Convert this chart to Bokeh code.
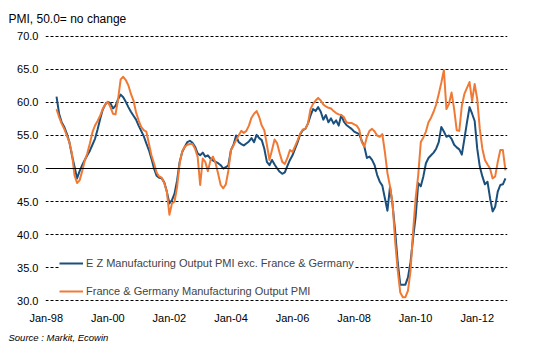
from bokeh.plotting import figure
from bokeh.models import (Range1d, FixedTicker, Span, Legend, LegendItem, Title,
                          NumeralTickFormatter)
from bokeh.embed import file_html
from bokeh.resources import INLINE

# ---- data: monthly PMI readings, Jan-98 .. Aug-12 ----
ez_1998 = [60.9, 58.3, 57.0, 56.3, 55.3, 54.0, 52.0, 50.3, 48.5, 49.6, 50.5, 51.3]
ez_1999 = [52.0, 52.7, 53.6, 54.5, 55.9, 57.5, 58.9, 59.7, 60.1, 59.9, 59.1, 59.5]
ez_2000 = [60.5, 61.2, 60.8, 60.1, 59.3, 58.6, 58.0, 57.4, 56.5, 55.7, 54.9, 53.8]
ez_2001 = [52.8, 51.5, 50.0, 48.9, 48.6, 48.5, 47.9, 46.5, 44.7, 45.2, 46.2, 48.2]
ez_2002 = [51.0, 52.5, 53.3, 54.0, 54.2, 53.9, 53.3, 52.3, 52.0, 52.4, 51.8, 52.0]
ez_2003 = [51.5, 51.2, 51.0, 50.8, 50.5, 50.0, 50.2, 50.5, 52.8, 53.6, 55.0, 54.0]
ez_2004 = [53.7, 53.5, 53.8, 54.1, 54.6, 54.0, 55.1, 54.6, 54.3, 53.0, 51.0, 50.5]
ez_2005 = [51.3, 50.6, 50.0, 49.5, 49.2, 49.4, 50.4, 51.3, 52.0, 53.0, 54.0, 55.2]
ez_2006 = [55.8, 56.0, 56.8, 58.0, 59.0, 58.7, 59.3, 58.6, 57.4, 58.1, 57.0, 57.6]
ez_2007 = [56.8, 57.3, 56.5, 58.1, 57.1, 56.6, 56.3, 56.0, 55.6, 55.4, 55.2, 54.2]
ez_2008 = [53.3, 51.6, 51.8, 51.3, 50.5, 49.0, 48.0, 47.4, 45.5, 43.6, 47.2, 44.5]
ez_2009 = [40.5, 35.8, 32.4, 32.4, 32.4, 33.5, 35.8, 39.5, 42.7, 47.8, 47.3, 48.8]
ez_2010 = [50.8, 51.6, 52.0, 52.4, 53.0, 54.0, 56.3, 55.6, 54.8, 55.0, 54.5, 53.6]
ez_2011 = [53.2, 52.9, 52.1, 54.5, 57.0, 59.3, 58.3, 57.2, 53.0, 50.3, 48.8, 47.6]
ez_2012 = [48.0, 45.5, 43.5, 44.2, 46.5, 47.5, 47.6, 48.5]

fg_1998 = [59.0, 57.8, 56.8, 56.0, 55.0, 54.0, 52.3, 49.0, 47.8, 48.2, 49.6, 51.2]
fg_1999 = [52.3, 53.8, 55.5, 56.5, 57.2, 58.0, 59.0, 59.7, 60.1, 59.3, 58.3, 58.2]
fg_2000 = [60.5, 63.5, 63.9, 63.4, 62.6, 61.3, 60.3, 58.5, 57.3, 56.3, 55.8, 55.6]
fg_2001 = [53.8, 52.0, 50.8, 49.4, 48.8, 48.6, 47.8, 46.5, 43.0, 44.7, 45.0, 47.2]
fg_2002 = [50.8, 52.6, 53.3, 53.6, 53.7, 53.7, 53.0, 51.8, 47.5, 51.5, 51.0, 49.6]
fg_2003 = [51.2, 51.8, 50.8, 49.2, 47.5, 47.0, 47.6, 49.7, 52.8, 53.5, 54.3, 55.0]
fg_2004 = [55.7, 55.4, 55.7, 56.5, 57.7, 58.3, 58.7, 57.8, 56.5, 55.8, 53.6, 51.3]
fg_2005 = [52.8, 54.4, 53.8, 52.3, 51.0, 50.7, 51.6, 52.8, 52.5, 53.4, 54.3, 55.3]
fg_2006 = [55.9, 56.0, 56.8, 59.0, 59.8, 60.3, 60.7, 60.3, 59.7, 59.4, 59.2, 59.1]
fg_2007 = [58.7, 58.4, 58.2, 58.1, 57.8, 57.0, 56.9, 56.9, 56.7, 56.5, 55.9, 54.0]
fg_2008 = [53.3, 54.8, 55.7, 56.0, 55.6, 55.0, 54.8, 55.2, 52.5, 49.3, 47.3, 44.7]
fg_2009 = [39.0, 34.6, 31.2, 30.5, 30.5, 31.5, 34.5, 40.5, 45.5, 49.0, 54.0, 54.7]
fg_2010 = [55.6, 57.0, 57.7, 58.6, 59.7, 61.3, 63.0, 64.9, 59.0, 59.8, 61.5, 59.0]
fg_2011 = [55.8, 55.7, 59.5, 61.3, 62.2, 63.1, 60.2, 62.8, 60.5, 56.0, 53.0, 51.3]
fg_2012 = [50.6, 50.0, 48.5, 48.8, 51.0, 52.8, 52.8, 49.7]

ez_output = (ez_1998 + ez_1999 + ez_2000 + ez_2001 + ez_2002 + ez_2003 + ez_2004 +
             ez_2005 + ez_2006 + ez_2007 + ez_2008 + ez_2009 + ez_2010 + ez_2011 + ez_2012)
fg_output = (fg_1998 + fg_1999 + fg_2000 + fg_2001 + fg_2002 + fg_2003 + fg_2004 +
             fg_2005 + fg_2006 + fg_2007 + fg_2008 + fg_2009 + fg_2010 + fg_2011 + fg_2012)
months = list(range(len(ez_output)))

x_tick_labels = ["Jan-98", "Jan-00", "Jan-02", "Jan-04", "Jan-06", "Jan-08", "Jan-10", "Jan-12"]
y_ticks = [30, 35, 40, 45, 50, 55, 60, 65, 70]

ez_name = "E Z Manufacturing Output PMI exc. France & Germany"
fg_name = "France & Germany Manufacturing Output PMI"
title_text = "PMI, 50.0= no change"
source_text = "Source : Markit, Ecowin"

BLUE = "#1b4f7c"
ORANGE = "#f07a35"
FONT = "Liberation Sans"

# ---- figure ----
W, H = 547, 357
LEFT, TOP, FRAME_W, FRAME_H = 45, 34, 462, 267
p = figure(width=W, height=H, output_backend="svg", toolbar_location=None,
           x_range=Range1d(-4.3, 175.8), y_range=Range1d(29.85, 70.15),
           min_border_left=LEFT, min_border_right=W - LEFT - FRAME_W,
           min_border_top=TOP, min_border_bottom=H - TOP - FRAME_H)
p.outline_line_color = None
p.background_fill_color = "white"
p.border_fill_color = "white"

label_shift = -4  # axis labels sit a little left of the first observation
p.xaxis.ticker = FixedTicker(ticks=[label_shift + 24 * i for i in range(len(x_tick_labels))])
p.xaxis.major_label_overrides = {label_shift + 24 * i: t for i, t in enumerate(x_tick_labels)}
p.yaxis.ticker = FixedTicker(ticks=y_ticks)
p.yaxis.formatter = NumeralTickFormatter(format="0.0")
for ax in (p.xaxis[0], p.yaxis[0]):
    ax.axis_line_color = None
    ax.major_tick_line_color = None
    ax.minor_tick_line_color = None
    ax.major_tick_out = 0
    ax.major_tick_in = 0
    ax.major_label_text_font = FONT
    ax.major_label_text_font_size = "11px"
    ax.major_label_text_color = "#000000"
p.yaxis.major_label_standoff = 7
p.xaxis.major_label_standoff = 10

p.xgrid.grid_line_color = None
p.ygrid.ticker = FixedTicker(ticks=[t for t in y_ticks if t != 50])
p.ygrid.grid_line_color = "#000000"
p.ygrid.grid_line_dash = "3 2"
p.ygrid.grid_line_width = 1

p.add_layout(Span(location=50, dimension="width", line_color="#000000", line_width=1))

r_ez = p.line(months, ez_output, line_color=BLUE, line_width=2, line_join="round")
r_fg = p.line(months, fg_output, line_color=ORANGE, line_width=2, line_join="round")

legend = Legend(items=[LegendItem(label=ez_name, renderers=[r_ez]),
                       LegendItem(label=fg_name, renderers=[r_fg])],
                location=(14, 2), background_fill_color="white", background_fill_alpha=1.0,
                border_line_color=None, label_text_font=FONT, label_text_font_size="11px",
                glyph_width=24, glyph_height=16, label_height=16, label_standoff=3,
                padding=14, spacing=12, margin=0)
p.add_layout(legend)

p.add_layout(Title(text=title_text, align="left", offset=8 - LEFT, standoff=19,
                   text_font=FONT, text_font_size="12px", text_font_style="normal",
                   text_color="#000000"), "above")
p.add_layout(Title(text=source_text, align="left", offset=8 - LEFT, standoff=6,
                   text_font=FONT, text_font_size="9.5px", text_font_style="italic",
                   text_color="#000000"), "below")

open("out.html", "w").write(file_html(p, INLINE))
